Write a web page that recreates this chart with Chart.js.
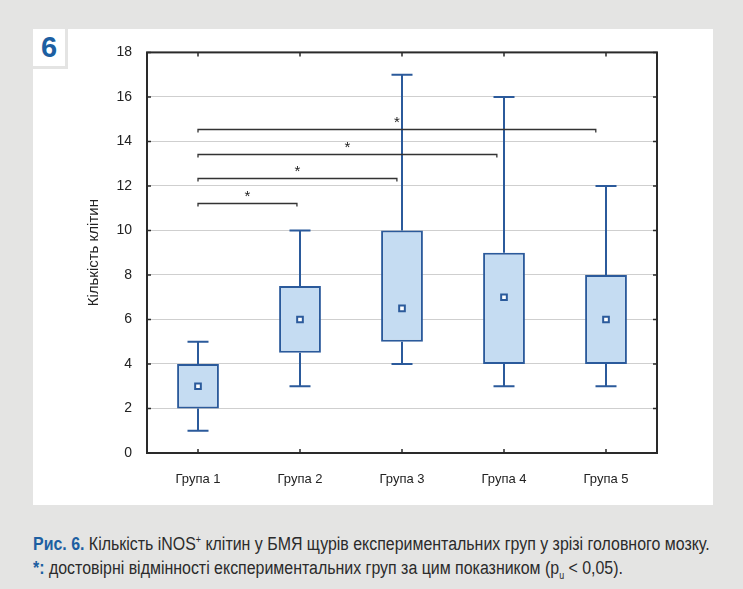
<!DOCTYPE html>
<html>
<head>
<meta charset="utf-8">
<script src="https://cdn.jsdelivr.net/npm/chart.js@4/dist/chart.umd.min.js"></script>
<style>
  body { margin: 0; background: #e4e4e3; width: 743px; height: 589px; position: relative; overflow: hidden; }
  #panel { position: absolute; left: 33px; top: 29px; width: 680px; height: 476px; background: #fff; }
  #num { position: absolute; left: 33px; top: 29px; width: 32px; height: 37px; background: #fff;
         border-right: 3px solid #e4e4e3; border-bottom: 3px solid #e4e4e3;
         font: bold 29px "Liberation Sans", Arial, sans-serif; color: #1d5fa2; text-align: center; line-height: 37px; }
  #chartBox { position: absolute; left: 33px; top: 29px; width: 680px; height: 476px; }
  #caption { position: absolute; left: 33px; top: 533px; width: 800px; transform: scaleX(0.885); transform-origin: 0 0;
             font: 18px "Liberation Sans", Arial, sans-serif; color: #2b2b2b; line-height: 23.5px; white-space: nowrap; }
  #caption b { color: #1d5fa2; }
</style>
</head>
<body>
<div id="panel"></div>
<div id="chartBox"><canvas id="myChart" width="680" height="476"></canvas></div>
<div id="num">6</div>
<div id="caption">
  <b>Рис. 6.</b> Кількість iNOS<sup style="font-size:10px;vertical-align:7px;line-height:0">+</sup> клітин у БМЯ щурів експериментальних груп у зрізі головного мозку.<br>
  <b>*:</b> достовірні відмінності експериментальних груп за цим показником (p<sub style="font-size:10px;line-height:0">u</sub> &lt; 0,05).
</div>
<script>
// groups and box plot values
const groups = ['Група 1', 'Група 2', 'Група 3', 'Група 4', 'Група 5'];
const mins = [1, 3, 4, 3, 3];
const q1s = [2, 4.5, 5, 4, 4];
const medians = [3, 6, 6.5, 7, 6];
const q3s = [4, 7.5, 10, 9, 8];
const maxs = [5, 10, 17, 16, 12];

// significance brackets (category index from -> to, level on y axis)
const sigFrom = [0, 0, 0, 0];
const sigTo = [0.97, 1.95, 2.93, 3.9];
const sigLevel = [11.25, 12.35, 13.45, 14.55];

const blue = '#2b5a9b';
const frameColor = '#2a2a2a';

const boxData = groups.map((g, i) => [q1s[i], q3s[i]]);

const boxPlugin = {
  id: 'boxExtras',
  beforeDatasetsDraw(chart) {
    const ctx = chart.ctx;
    const x = chart.scales.x, y = chart.scales.y;
    ctx.save();
    ctx.strokeStyle = blue;
    ctx.lineWidth = 2;
    for (let i = 0; i < groups.length; i++) {
      const cx = x.getPixelForValue(i);
      ctx.beginPath();
      ctx.moveTo(cx, y.getPixelForValue(q3s[i]));
      ctx.lineTo(cx, y.getPixelForValue(maxs[i]));
      ctx.moveTo(cx, y.getPixelForValue(q1s[i]));
      ctx.lineTo(cx, y.getPixelForValue(mins[i]));
      ctx.moveTo(cx - 10.5, y.getPixelForValue(maxs[i]));
      ctx.lineTo(cx + 10.5, y.getPixelForValue(maxs[i]));
      ctx.moveTo(cx - 10.5, y.getPixelForValue(mins[i]));
      ctx.lineTo(cx + 10.5, y.getPixelForValue(mins[i]));
      ctx.stroke();
    }
    ctx.restore();
  },
  afterDraw(chart) {
    const ctx = chart.ctx;
    const x = chart.scales.x, y = chart.scales.y;
    const a = chart.chartArea;
    ctx.save();
    // significance brackets
    ctx.strokeStyle = '#333';
    ctx.fillStyle = '#222';
    ctx.lineWidth = 1.3;
    ctx.font = '15px "Liberation Sans", Arial, sans-serif';
    ctx.textAlign = 'center';
    ctx.textBaseline = 'alphabetic';
    for (let k = 0; k < sigFrom.length; k++) {
      const x1 = x.getPixelForValue(sigFrom[k]);
      const x2 = x.getPixelForValue(sigTo[k]);
      const yy = Math.round(y.getPixelForValue(sigLevel[k])) + 0.5;
      ctx.beginPath();
      ctx.moveTo(x1, yy + 3);
      ctx.lineTo(x1, yy);
      ctx.lineTo(x2, yy);
      ctx.lineTo(x2, yy + 3);
      ctx.stroke();
      ctx.fillText('*', (x1 + x2) / 2, yy - 2.5);
    }
    // frame
    ctx.strokeStyle = frameColor;
    ctx.lineWidth = 2;
    ctx.strokeRect(a.left, a.top, a.right - a.left, a.bottom - a.top);
    // inner tick marks
    ctx.lineWidth = 1.5;
    ctx.beginPath();
    y.ticks.forEach(t => {
      const py = y.getPixelForValue(t.value);
      ctx.moveTo(a.left, py); ctx.lineTo(a.left + 4, py);
      ctx.moveTo(a.right, py); ctx.lineTo(a.right - 4, py);
    });
    for (let i = 0; i < groups.length; i++) {
      const px = x.getPixelForValue(i);
      ctx.moveTo(px, a.top); ctx.lineTo(px, a.top + 4);
      ctx.moveTo(px, a.bottom); ctx.lineTo(px, a.bottom - 4);
    }
    ctx.stroke();
    ctx.restore();
  }
};

const ctx = document.getElementById('myChart').getContext('2d');
const myChart = new Chart(ctx, {
  type: 'bar',
  data: {
    labels: groups,
    datasets: [{
      type: 'line',
      label: 'Медіана',
      data: medians,
      showLine: false,
      pointStyle: 'rect',
      pointRadius: 4,
      pointHoverRadius: 4,
      pointBackgroundColor: '#ffffff',
      pointBorderColor: blue,
      pointBorderWidth: 2,
      order: 0
    }, {
      label: 'Box',
      data: boxData,
      backgroundColor: '#c5dcf2',
      borderColor: blue,
      borderWidth: 2,
      borderSkipped: false,
      categoryPercentage: 1,
      barPercentage: 0.41,
      order: 1
    }]
  },
  options: {
    responsive: false,
    animation: false,
    layout: { padding: { left: 0, right: 56, top: 22, bottom: 0 } },
    plugins: { legend: { display: false }, tooltip: { enabled: false } },
    scales: {
      x: {
        grid: { display: false, drawTicks: false },
        border: { display: false },
        ticks: { color: '#222', padding: 19, font: { family: '"Liberation Sans", Arial, sans-serif', size: 13 } },
        afterFit(s) { s.height = 52; }
      },
      y: {
        min: 0,
        max: 18,
        ticks: { stepSize: 2, color: '#222', padding: 15, font: { family: '"Liberation Sans", Arial, sans-serif', size: 14 } },
        grid: { color: '#cfcfcf', lineWidth: 1, drawTicks: false },
        border: { display: false },
        title: {
          display: true,
          text: 'Кількість клітин',
          color: '#222',
          font: { family: '"Liberation Sans", Arial, sans-serif', size: 15 },
          padding: { top: 52, bottom: 0 }
        },
        afterFit(s) { s.width = 114; }
      }
    }
  },
  plugins: [boxPlugin]
});
</script>
</body>
</html>
